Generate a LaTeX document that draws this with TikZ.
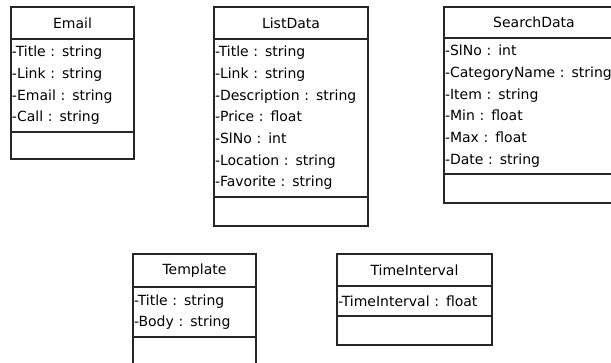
\documentclass[tikz,border=0pt]{standalone}
\usepackage{fontspec}
\setmainfont{DejaVu Sans}
\usepackage{tikz}
\usetikzlibrary{positioning}
\tikzstyle{classname} = [rectangle, draw=black!85, line width=1.2pt, outer sep=0pt, minimum height=32pt, inner sep=1pt, text centered]
\tikzstyle{attrs} = [rectangle, draw=black!85, line width=1.2pt, outer sep=0pt, inner xsep=1pt, inner ysep=1pt, align=left]
\tikzstyle{methods} = [rectangle, draw=black!85, line width=1.2pt, outer sep=0pt, minimum height=29pt, inner sep=0pt]

\begin{document}
\begin{tikzpicture}[x=1pt, y=-1pt, node font=\fontsize{14pt}{21.7pt}\selectfont]
    \path[use as bounding box, clip] (0,0) rectangle (611,362);

    % Email
    \node (email) [classname, minimum width=123pt] at (72.5,23) {Email};
    \node (email attrs) [attrs, below=0pt of email, text width=121pt, minimum height=93pt] {-Title : string\\-Link : string\\-Email : string\\-Call : string};
    \node (email ops) [methods, below=0pt of email attrs, minimum width=123pt, minimum height=27pt] {};

    % ListData
    \node (list) [classname, minimum width=154pt] at (291,23) {ListData};
    \node (list attrs) [attrs, below=0pt of list, text width=152pt, minimum height=158pt] {-Title : string\\-Link : string\\-Description : string\\-Price : float\\-SlNo : int\\-Location : string\\-Favorite : string};
    \node (list ops) [methods, below=0pt of list attrs, minimum width=154pt] {};

    % SearchData
    \node (search) [classname, minimum width=180pt, minimum height=31pt] at (534,22.5) {SearchData};
    \node (search attrs) [attrs, below=0pt of search, text width=178pt, minimum height=136pt] {-SlNo : int\\-CategoryName : string\\-Item : string\\-Min : float\\-Max : float\\-Date : string};
    \node (search ops) [methods, below=0pt of search attrs, minimum width=180pt] {};

    % Template
    \node (template) [classname, minimum width=123pt, minimum height=33pt] at (194.5,270.5) {Template};
    \node (template attrs) [attrs, below=0pt of template, text width=121pt, minimum height=50pt] {-Title : string\\-Body : string};
    \node (template ops) [methods, below=0pt of template attrs, minimum width=123pt] {};

    % TimeInterval
    \node (interval) [classname, minimum width=155pt] at (414.5,270) {TimeInterval};
    \node (interval attrs) [attrs, below=0pt of interval, text width=153pt, minimum height=30pt] {-TimeInterval : float};
    \node (interval ops) [methods, below=0pt of interval attrs, minimum width=155pt] {};

\end{tikzpicture}
\end{document}
